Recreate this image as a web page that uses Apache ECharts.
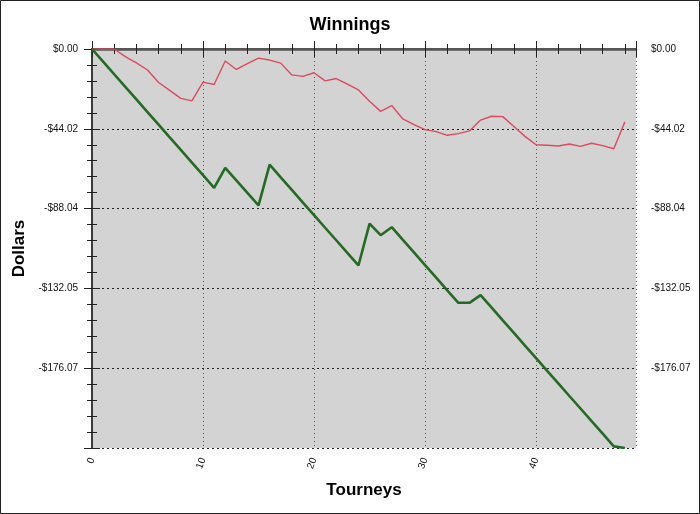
<!DOCTYPE html>
<html>
<head>
<meta charset="utf-8">
<script src="https://cdn.jsdelivr.net/npm/echarts@6/dist/echarts.min.js"></script>
<style>
    html, body { margin: 0; padding: 0; background: #fff; }
    #chart { width: 700px; height: 514px; }
</style>
</head>
<body>
<div id="chart"></div>
<script>
    // tourney number (x)
    const tourneys = [0, 1, 2, 3, 4, 5, 6, 7, 8, 9, 10, 11, 12, 13, 14, 15, 16, 17, 18, 19,
        20, 21, 22, 23, 24, 25, 26, 27, 28, 29, 30, 31, 32, 33, 34, 35, 36, 37, 38, 39,
        40, 41, 42, 43, 44, 45, 46, 47, 48];

    // red line
    const redWinnings = [0, 0, 0, -4.2, -7.7, -11.6, -18.5, -22.8, -27.2, -28.6,
        -18.3, -19.6, -6.6, -11.3, -8.1, -5.0, -6.1, -7.8, -14.3, -15.1,
        -13.1, -17.6, -16.3, -19.4, -22.6, -28.8, -34.4, -31.2, -38.6, -41.7,
        -44.5, -45.6, -47.6, -46.7, -45.2, -39.2, -37.1, -37.3, -42.7, -48.2,
        -52.8, -53.1, -53.5, -52.4, -53.7, -52.0, -53.3, -55.0, -40.2];

    // green line
    const greenWinnings = [0, -6.96, -13.92, -20.88, -27.84, -34.80, -41.76, -48.72, -55.68, -62.64,
        -69.60, -76.56, -65.6, -72.5, -79.4, -86.3, -63.8, -70.8, -77.7, -84.7,
        -91.6, -98.6, -105.5, -112.4, -119.4, -96.3, -102.7, -98.3, -105.3, -112.2,
        -119.2, -126.1, -133.1, -140.0, -140.0, -135.8, -142.7, -149.7, -156.6, -163.6,
        -170.5, -177.5, -184.4, -191.4, -198.3, -205.3, -212.2, -219.2, -220.09];

    // axis scale
    const yStep = 44.018;
    const yMin = -5 * yStep;
    const xMax = 49;
    const xStep = 10;

    const font = "'Liberation Sans', Arial, sans-serif";

    function dollars(v) {
        if (Math.abs(v) < 0.005) return '$0.00';
        return (v < 0 ? '-$' : '$') + Math.abs(v).toFixed(2);
    }

    function pairs(ys) {
        return tourneys.map((t, i) => [t, ys[i]]);
    }

    const tick = { show: true, length: 8, lineStyle: { color: '#222' } };
    const minor = { show: true, splitNumber: 5, length: 5, lineStyle: { color: '#222' } };

    let chart = echarts.init(document.getElementById('chart'), null, { renderer: 'canvas' });

    chart.setOption({
        animation: false,
        backgroundColor: '#fff',
        title: {
            text: 'Winnings',
            left: 'center',
            top: 11,
            textStyle: { fontFamily: font, fontSize: 18, fontWeight: 'bold', color: '#000' }
        },
        grid: {
            left: 92, right: 64, top: 49, bottom: 66,
            show: true, backgroundColor: '#d3d3d3', borderWidth: 0
        },
        xAxis: [
            {
                type: 'value', min: 0, max: xMax, interval: xStep, position: 'bottom',
                name: 'Tourneys', nameLocation: 'middle', nameGap: 34,
                nameTextStyle: { fontFamily: font, fontSize: 17, fontWeight: 'bold', color: '#000' },
                axisLine: { show: true, lineStyle: { color: '#222', width: 1.5 } },
                axisTick: tick,
                minorTick: minor,
                axisLabel: {
                    rotate: 70, margin: 10, showMaxLabel: false,
                    fontFamily: font, fontSize: 10, color: '#111'
                },
                splitLine: { show: true, lineStyle: { color: '#555', type: [1, 3], width: 1 } }
            },
            {
                type: 'value', min: 0, max: xMax, interval: xStep, position: 'top',
                axisLine: { show: true, lineStyle: { color: '#555', width: 2.5 } },
                axisTick: tick,
                minorTick: minor,
                axisLabel: { show: false },
                splitLine: { show: false }
            }
        ],
        yAxis: [
            {
                type: 'value', min: yMin, max: 0, interval: yStep, position: 'left',
                name: 'Dollars', nameLocation: 'middle', nameGap: 54,
                nameTextStyle: { fontFamily: font, fontSize: 17, fontWeight: 'bold', color: '#000' },
                axisLine: { show: true, lineStyle: { color: '#555', width: 2 } },
                axisTick: tick,
                minorTick: minor,
                axisLabel: {
                    formatter: dollars, showMinLabel: false, margin: 14,
                    fontFamily: font, fontSize: 10, color: '#111'
                },
                splitLine: { show: true, lineStyle: { color: '#222', type: [2, 3], width: 1 } }
            },
            {
                type: 'value', min: yMin, max: 0, interval: yStep, position: 'right',
                axisLine: { show: true, lineStyle: { color: '#333', width: 1.5 } },
                axisTick: tick,
                minorTick: minor,
                axisLabel: {
                    formatter: dollars, showMinLabel: false, margin: 15,
                    fontFamily: font, fontSize: 10, color: '#111'
                },
                splitLine: { show: false }
            }
        ],
        graphic: [
            {
                type: 'rect', silent: true, z: 100,
                shape: { x: 0.5, y: 0.5, width: 699, height: 513 },
                style: { fill: 'none', stroke: '#222', lineWidth: 1 }
            }
        ],
        series: [
            {
                type: 'line', name: 'red', data: pairs(redWinnings),
                showSymbol: false, symbol: 'none',
                lineStyle: { color: '#db4a5e', width: 1.4 }
            },
            {
                type: 'line', name: 'green', data: pairs(greenWinnings),
                showSymbol: false, symbol: 'none',
                lineStyle: { color: '#236b23', width: 2.6 }
            }
        ]
    });
</script>
</body>
</html>
